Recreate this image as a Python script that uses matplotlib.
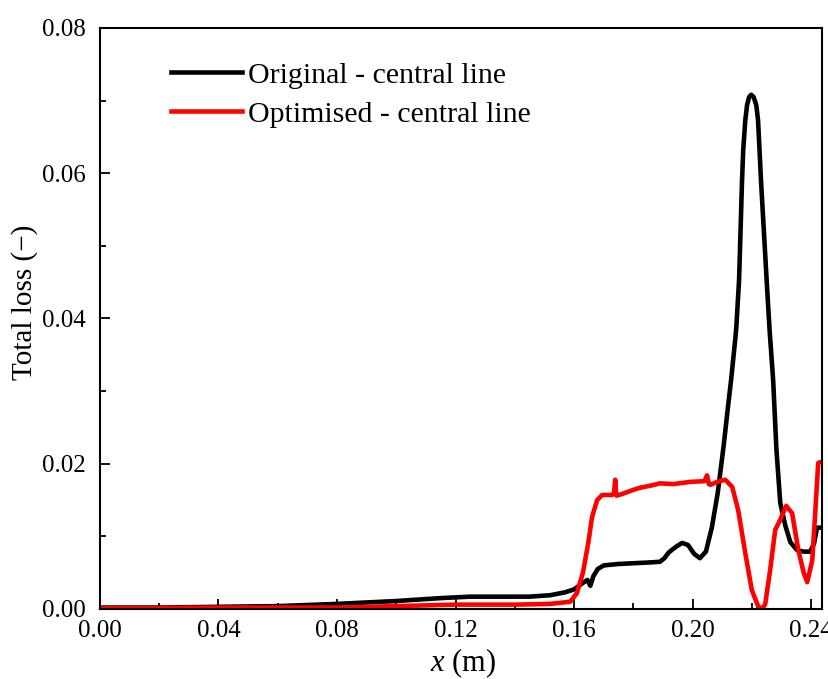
import numpy as np
import matplotlib.pyplot as plt
from matplotlib.ticker import MultipleLocator, FormatStrFormatter

plt.rcParams['font.family'] = 'Liberation Serif'
plt.rcParams['mathtext.fontset'] = 'custom'
plt.rcParams['mathtext.it'] = 'Liberation Serif:italic'
plt.rcParams['mathtext.rm'] = 'Liberation Serif'

# original geometry, central line
x_orig = [0.000, 0.020, 0.040, 0.060, 0.080, 0.100, 0.115, 0.125, 0.135, 0.145,
          0.152, 0.157, 0.160, 0.163, 0.1645, 0.1655, 0.1665, 0.168, 0.170, 0.175,
          0.180, 0.185, 0.189, 0.1905, 0.192, 0.1945, 0.1965, 0.1985, 0.2005, 0.2025,
          0.2045, 0.2065, 0.2085, 0.2105, 0.212, 0.2130, 0.2145, 0.2148, 0.2157, 0.2167,
          0.2171, 0.2178, 0.2184, 0.2191, 0.2198, 0.2206, 0.2215, 0.2221, 0.2226, 0.2231,
          0.2250, 0.2260, 0.2272, 0.2283, 0.2296, 0.2313, 0.2330, 0.2353, 0.2375, 0.2397,
          0.2410, 0.2420, 0.2437]
y_orig = [0.0002, 0.0002, 0.0003, 0.0004, 0.0007, 0.0011, 0.0015, 0.0017, 0.0017, 0.0017,
          0.0019, 0.0023, 0.0027, 0.0036, 0.0040, 0.0032, 0.0045, 0.0055, 0.0060, 0.0062,
          0.0063, 0.0064, 0.0065, 0.0070, 0.0078, 0.0086, 0.0091, 0.0088, 0.0076, 0.0070,
          0.0079, 0.0112, 0.0160, 0.0225, 0.0280, 0.0315, 0.0375, 0.0390, 0.0453, 0.0590,
          0.0632, 0.0673, 0.0694, 0.0705, 0.0708, 0.0705, 0.0694, 0.0673, 0.0632, 0.0590,
          0.0453, 0.0384, 0.0315, 0.0220, 0.0146, 0.0115, 0.0092, 0.0081, 0.0079, 0.0079,
          0.0090, 0.0112, 0.0112]

# optimised geometry, central line
x_opt = [0.000, 0.040, 0.080, 0.100, 0.120, 0.140, 0.152, 0.1587, 0.161, 0.163,
         0.1648, 0.1661, 0.1678, 0.1695, 0.1729, 0.1735, 0.1739, 0.1743, 0.176, 0.180,
         0.1823, 0.186, 0.189, 0.1935, 0.1992, 0.2040, 0.2049, 0.2055, 0.2060, 0.2083,
         0.2110, 0.2134, 0.2154, 0.2178, 0.2200, 0.2222, 0.2235, 0.2245, 0.2262, 0.2279,
         0.2296, 0.2316, 0.2336, 0.2357, 0.2375, 0.2387, 0.2404, 0.2414, 0.2424, 0.2437]
y_opt = [0.0001, 0.0002, 0.0002, 0.0004, 0.0006, 0.0006, 0.0007, 0.0010, 0.0022, 0.0050,
         0.0091, 0.0127, 0.0150, 0.0157, 0.0157, 0.0160, 0.0178, 0.0156, 0.0158, 0.0164,
         0.0167, 0.0170, 0.0173, 0.0172, 0.0175, 0.0176, 0.0184, 0.0172, 0.0171, 0.0175,
         0.0178, 0.0168, 0.0136, 0.0077, 0.0026, 0.0003, 0.0001, 0.0006, 0.0054, 0.0109,
         0.0123, 0.0142, 0.0132, 0.0081, 0.0050, 0.0037, 0.0067, 0.0132, 0.0201, 0.0203]

fig = plt.figure(figsize=(8.29, 6.79), dpi=100)
ax = fig.add_axes([0.1206, 0.1031, 0.871, 0.8557])

ax.plot(x_orig, y_orig, color='black', lw=3.3, label='Original - central line')
ax.plot(x_opt, y_opt, color='#ff0000', lw=3.3, label='Optimised - central line')

ax.set_xlim(0, 0.2437)
ax.set_ylim(0, 0.08)
ax.xaxis.set_major_locator(MultipleLocator(0.04))
ax.xaxis.set_minor_locator(MultipleLocator(0.02))
ax.yaxis.set_major_locator(MultipleLocator(0.02))
ax.yaxis.set_minor_locator(MultipleLocator(0.01))
ax.xaxis.set_major_formatter(FormatStrFormatter('%.2f'))
ax.yaxis.set_major_formatter(FormatStrFormatter('%.2f'))
ax.tick_params(which='major', direction='in', length=7, width=1.3, labelsize=18)
ax.tick_params(which='minor', direction='in', length=4, width=1.3)
ax.tick_params(axis='x', which='major', pad=8)
ax.tick_params(axis='y', which='major', pad=10)
for s in ax.spines.values():
    s.set_linewidth(1.5)

ax.set_xlabel(r'$x$ (m)', fontsize=22)
ax.set_ylabel('Total loss (\u2212)', fontsize=21)
ax.xaxis.set_label_coords(0.503, -0.064)
ax.yaxis.set_label_coords(-0.086, 0.528)

ax.legend(loc='upper left', bbox_to_anchor=(0.0616, 0.988), frameon=False, fontsize=21.5,
          handlelength=2.35, handletextpad=0.23, labelspacing=0.4)

fig.savefig('out.png', dpi=100)
